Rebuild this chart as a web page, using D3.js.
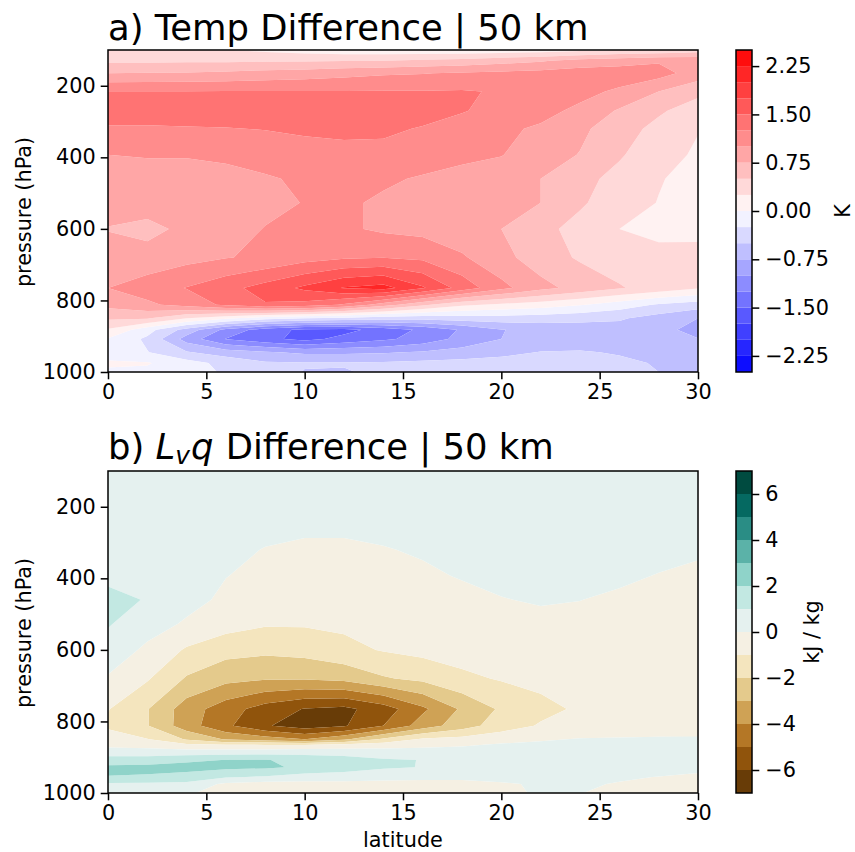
<!DOCTYPE html>
<html>
<head>
<meta charset="utf-8">
<script src="https://cdn.jsdelivr.net/npm/d3@7"></script>
<style>
  html, body { margin: 0; padding: 0; background: #fff; }
  svg { display: block; }
  text { font-family: "DejaVu Sans", sans-serif; fill: #000; }
</style>
</head>
<body>
<svg id="fig" width="855" height="852"></svg>
<script>
// shared latitude grid, rows below are listed top of atmosphere down
const lats = [0, 2, 4, 6, 8, 10, 12, 14, 16, 18, 20, 22, 24, 26, 28, 30];

const tempLevels = [100, 130, 165, 216, 270, 320, 393, 460, 527, 600, 680, 765, 812, 850, 882, 908, 945, 975, 1000];
const tempDiff = [
  [.3, .29, .27, .26, .2, .14, .1, .08, .08, .08, .1, .13, .18, .26, .3, .36],
  [.45, .45, .46, .46, .47, .48, .49, .5, .54, .58, .65, .72, .85, .9, .97, .95],
  [.75, .76, .77, .8, .84, .87, .92, .97, .99, 1.03, 1.06, 1.09, 1.12, 1.13, 1.1, .88],
  [1.26, 1.26, 1.26, 1.26, 1.26, 1.26, 1.26, 1.26, 1.26, 1.27, 1.23, 1.15, 1.07, .96, .75, .57],
  [1.38, 1.38, 1.4, 1.4, 1.42, 1.44, 1.45, 1.42, 1.36, 1.27, 1.15, 1.07, .95, .72, .54, .36],
  [1.22, 1.22, 1.23, 1.24, 1.26, 1.29, 1.31, 1.3, 1.23, 1.12, 1.04, .97, .8, .62, .42, .26],
  [1, 1.01, 1.01, 1.03, 1.08, 1.15, 1.17, 1.17, 1.1, 1.05, 1.01, .86, .74, .53, .33, .22],
  [.92, .94, .94, .95, .98, 1.03, 1.06, 1.03, .98, .93, .87, .75, .58, .42, .27, .15],
  [.85, .85, .86, .88, .93, 1.01, 1.03, .97, .9, .85, .8, .75, .53, .38, .24, .14],
  [.74, .69, .8, .9, 1.01, 1.05, 1.04, .96, .92, .85, .75, .56, .43, .25, .18, .2],
  [.85, .83, .92, .99, 1.04, 1.15, 1.22, 1.24, 1.2, 1.03, .83, .62, .47, .38, .33, .31],
  [1, 1.13, 1.26, 1.42, 1.6, 1.8, 2.02, 2.1, 1.78, 1.4, 1.07, .83, .66, .52, .4, .27],
  [.82, .95, 1.1, 1.3, 1.48, 1.42, 1.22, .88, .55, .3, .2, .12, .02, -.12, -.28, -.38],
  [.54, .52, .25, .05, -.15, -.25, -.33, -.4, -.42, -.38, -.36, -.38, -.43, -.47, -.6, -.75],
  [.22, -.15, -.6, -1.07, -1.38, -1.56, -1.58, -1.4, -1.2, -.97, -.76, -.67, -.62, -.6, -.66, -.85],
  [-.02, -.3, -.85, -1.26, -1.43, -1.58, -1.42, -1.3, -1.15, -.92, -.75, -.67, -.62, -.6, -.65, -.74],
  [-.1, -.24, -.48, -.62, -.72, -.8, -.8, -.78, -.72, -.65, -.57, -.49, -.48, -.52, -.57, -.62],
  [.03, .02, -.15, -.33, -.47, -.48, -.48, -.47, -.44, -.42, -.4, -.38, -.4, -.45, -.52, -.6],
  [-.03, -.05, -.15, -.28, -.38, -.51, -.52, -.45, -.43, -.4, -.38, -.36, -.38, -.42, -.5, -.6]
];

const moistLevels = [100, 130, 165, 216, 270, 320, 393, 460, 527, 600, 680, 765, 812, 850, 865, 882, 908, 928, 955, 975, 1000];
const moistDiff = [
  [.15, .15, .14, .14, .13, .13, .12, .12, .12, .13, .14, .15, .15, .15, .14, .14],
  [.18, .18, .17, .17, .16, .16, .16, .16, .17, .18, .2, .2, .2, .2, .18, .18],
  [.2, .2, .2, .2, .2, .2, .2, .2, .2, .22, .24, .25, .25, .25, .22, .2],
  [.25, .25, .24, .22, .2, .18, .18, .2, .24, .28, .32, .35, .35, .32, .28, .25],
  [.35, .33, .3, .25, .15, .07, .07, .14, .22, .3, .38, .4, .4, .35, .3, .25],
  [.45, .42, .35, .18, -.03, -.13, -.13, -.04, .08, .2, .3, .33, .33, .28, .22, .12],
  [.8, .65, .38, .02, -.22, -.32, -.32, -.28, -.12, .05, .18, .27, .25, .13, -.03, -.18],
  [1.25, .95, .3, -.18, -.42, -.55, -.55, -.5, -.35, -.2, -.03, .07, .01, -.12, -.3, -.45],
  [1.08, .42, -.12, -.6, -.9, -.9, -.8, -.7, -.55, -.4, -.3, -.2, -.2, -.25, -.4, -.5],
  [.6, -.2, -1.12, -1.64, -1.78, -1.65, -1.3, -.93, -.72, -.6, -.5, -.4, -.35, -.35, -.45, -.55],
  [-.1, -.9, -2.1, -2.7, -2.9, -2.9, -2.7, -2.1, -1.75, -1.2, -.92, -.7, -.5, -.4, -.45, -.5],
  [-.95, -1.95, -3.5, -4.55, -5.45, -6.05, -6.25, -5.5, -4.2, -2.85, -1.85, -1.3, -.85, -.6, -.5, -.45],
  [-1.2, -1.95, -3.55, -4.8, -5.9, -6.5, -6.1, -5, -3.55, -2.45, -1.5, -.9, -.65, -.5, -.45, -.4],
  [-.45, -.95, -2.1, -3.1, -3.5, -4, -3.2, -1.8, -.85, -.65, -.35, -.1, .05, .08, .1, .1],
  [-.2, -.33, -.85, -1, -1.05, -1.05, -.85, -.55, -.3, -.12, .1, .17, .25, .27, .28, .28],
  [.25, .25, .25, .27, .3, .45, .42, .35, .3, .3, .33, .35, .37, .38, .38, .38],
  [1.5, 1.55, 1.85, 2.02, 2.05, 1.7, 1.45, 1.1, .98, .7, .6, .55, .5, .5, .5, .5],
  [2.2, 2.25, 2.3, 2.25, 2.15, 1.85, 1.5, 1.12, .97, .8, .7, .62, .6, .55, .5, .45],
  [1.97, 1.9, 1.7, 1.1, .9, .55, .5, .3, .2, .15, .15, .2, .2, .1, -.02, -.3],
  [.85, .8, .7, -.2, -.4, -.35, -.3, -.28, -.25, -.2, -.05, .05, .1, -.05, -.15, -.2],
  [.3, .2, .03, -.1, -.15, -.2, -.2, -.2, -.18, -.13, -.06, .03, .01, -.1, -.2, -.25]
];

const tempBreaks = d3.range(-10, 11).map(d => d * 0.25);
const moistBreaks = d3.range(-7, 8);
const tempCbarTicks = [-2.25, -1.5, -0.75, 0, 0.75, 1.5, 2.25];
const moistCbarTicks = [-6, -4, -2, 0, 2, 4, 6];
const latTicks = [0, 5, 10, 15, 20, 25, 30];
const pressureTicks = [200, 400, 600, 800, 1000];

// matplotlib bwr / BrBG anchors
const bwr = d3.scaleLinear().domain([0, 0.5, 1]).range(['#0000ff', '#ffffff', '#ff0000']);
const brbg = d3.scaleLinear().domain(d3.range(11).map(d => d / 10))
  .range(['#543005', '#8c510a', '#bf812d', '#dfc27d', '#f6e8c3', '#f5f5f5', '#c7eae5', '#80cdc1', '#35978f', '#01665e', '#003c30']);

const svg = d3.select('#fig');
const fmtMinus = d => String(d).replace('-', '\u2212');
const tickPx = 7.3, lineW = 1.5, labelFont = '20.8px';

function drawPanel(opts) {
  const { top, bottom, levels, rows, breaks, colors, cbarTicks, cbarFmt } = opts;
  const left = 108, right = 698;
  const x = d3.scaleLinear().domain([0, 30]).range([left, right]);
  const y = d3.scaleLinear().domain([100, 1000]).range([top, bottom]);

  // d3.contours works in grid cells, so go cell -> index -> lat/pressure
  const nx = lats.length, ny = levels.length;
  const iToLat = d3.scaleLinear().domain(d3.range(nx)).range(lats).clamp(true);
  const jToP = d3.scaleLinear().domain(d3.range(ny)).range(levels).clamp(true);
  const path = d3.geoPath(d3.geoTransform({
    point(cx, cy) { this.stream.point(x(iToLat(cx - 0.5)), y(jToP(cy - 0.5))); }
  }));

  const flat = rows.flat();
  const contours = d3.contours().size([nx, ny]).smooth(true);
  const vmin = breaks[0], vmax = breaks[breaks.length - 1];
  const bands = d3.pairs(breaks).map(([lo, hi]) => ({ lo, hi, t: ((lo + hi) / 2 - vmin) / (vmax - vmin) }));

  svg.append('g').selectAll('path').data(bands).enter().append('path')
    .attr('d', d => (path(contours.contour(flat, d.lo)) || '') + (path(contours.contour(flat, d.hi)) || ''))
    .attr('fill-rule', 'evenodd')
    .attr('fill', d => colors(d.t));

  const xAxis = d3.axisBottom(x).tickValues(latTicks).tickSize(tickPx).tickPadding(5);
  const yAxis = d3.axisLeft(y).tickValues(pressureTicks).tickFormat(d3.format('d')).tickSize(tickPx).tickPadding(5);
  const gx = svg.append('g').attr('transform', `translate(0,${bottom})`).call(xAxis);
  const gy = svg.append('g').attr('transform', `translate(${left},0)`).call(yAxis);

  svg.append('rect').attr('x', left).attr('y', top).attr('width', right - left).attr('height', bottom - top)
    .attr('fill', 'none').attr('stroke', '#000').attr('stroke-width', lineW);

  svg.append('text').attr('transform', `translate(31,${(top + bottom) / 2 + 1}) rotate(-90)`)
    .attr('text-anchor', 'middle').style('font-size', labelFont).text('pressure (hPa)');

  // colorbar
  const cx0 = 736, cx1 = 752;
  const cy = d3.scaleLinear().domain([vmin, vmax]).range([bottom, top]);
  svg.append('g').selectAll('rect').data(bands).enter().append('rect')
    .attr('x', cx0).attr('width', cx1 - cx0)
    .attr('y', d => cy(d.hi)).attr('height', d => cy(d.lo) - cy(d.hi))
    .attr('fill', d => colors(d.t));
  const gc = svg.append('g').attr('transform', `translate(${cx1},0)`)
    .call(d3.axisRight(cy).tickValues(cbarTicks).tickFormat(cbarFmt).tickSize(tickPx).tickPadding(6));
  svg.append('rect').attr('x', cx0).attr('y', top).attr('width', cx1 - cx0).attr('height', bottom - top)
    .attr('fill', 'none').attr('stroke', '#000').attr('stroke-width', lineW);

  [gx, gy, gc].forEach(g => {
    g.select('.domain').remove();
    g.selectAll('.tick line').attr('stroke', '#000').attr('stroke-width', lineW);
    g.selectAll('.tick text').style('font-size', labelFont).style('font-family', '"DejaVu Sans", sans-serif');
  });
  return { x, y };
}

drawPanel({
  top: 50, bottom: 372, levels: tempLevels, rows: tempDiff, breaks: tempBreaks,
  colors: bwr, cbarTicks: tempCbarTicks, cbarFmt: d => fmtMinus(d.toFixed(2))
});
drawPanel({
  top: 471, bottom: 793, levels: moistLevels, rows: moistDiff, breaks: moistBreaks,
  colors: brbg, cbarTicks: moistCbarTicks, cbarFmt: d => fmtMinus(d)
});

// titles
svg.append('text').attr('x', 108).attr('y', 40).style('font-size', '35.4px').text('a) Temp Difference | 50 km');
const t2 = svg.append('text').attr('x', 108).attr('y', 459).style('font-size', '35.4px');
t2.append('tspan').text('b) ');
t2.append('tspan').style('font-style', 'italic').text('L');
t2.append('tspan').style('font-style', 'italic').style('font-size', '24.8px').attr('dy', 5).text('v');
t2.append('tspan').style('font-style', 'italic').attr('dy', -5).attr('dx', 1).text('q');
t2.append('tspan').attr('dx', 1).text(' Difference | 50 km');

// axis / colorbar labels
svg.append('text').attr('x', 403).attr('y', 847).attr('text-anchor', 'middle').style('font-size', labelFont).text('latitude');
svg.append('text').attr('transform', 'translate(850,211) rotate(-90)').attr('text-anchor', 'middle').style('font-size', labelFont).text('K');
svg.append('text').attr('transform', 'translate(819,632) rotate(-90)').attr('text-anchor', 'middle').style('font-size', labelFont).text('kJ / kg');
</script>
</body>
</html>
